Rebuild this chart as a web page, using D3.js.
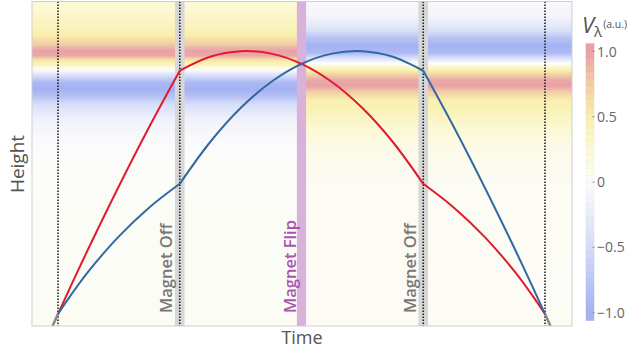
<!DOCTYPE html>
<html>
<head>
<meta charset="utf-8">
<title>Magnet trajectories</title>
<style>
  body { margin: 0; background: #fff; }
  text { font-family: "Open Sans", "Noto Sans", sans-serif; }
</style>
</head>
<body>
<script src="https://d3js.org/d3.v7.min.js"></script>
<script>

var width = 629,
    height = 349;

// trajectory samples (time, height in a.u.)
var tA = [0, 0.1, 0.25, 0.5, 0.75, 1];
var tB = [1, 1.25, 1.5, 1.75, 2, 2.25, 2.5, 2.75, 3];
var tC = [3, 3.25, 3.5, 3.75, 3.9, 4];
var redA = [0, 0.101, 0.249, 0.486, 0.712, 0.925];
var redB = [0.925, 0.978, 0.999, 0.990, 0.951, 0.882, 0.783, 0.654, 0.495];
var redC = [0.495, 0.405, 0.295, 0.162, 0.068, 0];
var blueA = [0, 0.068, 0.162, 0.295, 0.405, 0.495];
var blueB = [0.495, 0.654, 0.783, 0.882, 0.951, 0.990, 0.999, 0.978, 0.925];
var blueC = [0.925, 0.712, 0.486, 0.249, 0.101, 0];
// grey continuation below the launch / landing point
var tailT = [[-0.045, 0], [4, 4.045]];
var tailH = [[-0.046, 0], [0, -0.046]];

// events
var offTimes = [1, 3];
var flipTime = 2;
var edgeTimes = [0, 4];

// background field V(height), before and after the flip
var fieldH = [-0.05, 0.548, 0.662, 0.738, 0.795, 0.825, 0.852, 0.878, 0.905, 0.928, 0.947, 0.966, 0.981, 1.0, 1.027, 1.061, 1.118, 1.2];
var fieldBefore = [0.04, 0.02, -0.03, -0.15, -0.45, -0.8, -1.0, -0.95, -0.5, 0.0, 0.4, 0.6, 0.95, 1.0, 0.75, 0.5, 0.35, 0.2];
var fieldH2 = [-0.05, 0.51, 0.624, 0.70, 0.757, 0.814, 0.844, 0.867, 0.890, 0.913, 0.935, 0.954, 0.973, 0.992, 1.019, 1.049, 1.087, 1.137, 1.2];
var fieldAfter = [0.04, 0.05, 0.12, 0.25, 0.4, 0.5, 0.75, 1.0, 0.95, 0.7, 0.35, 0.0, -0.45, -0.9, -1.0, -0.8, -0.35, -0.1, -0.05];

var legendTicks = [1.0, 0.5, 0, -0.5, -1.0];
var legendLabels = ["1.0", "0.5", "0", "\u22120.5", "\u22121.0"];

var plot = {left: 32, right: 572, top: 1.5, bottom: 326};

var x = d3.scaleLinear().domain([0, 4]).range([58, 545]);
var y = d3.scaleLinear().domain([0, 1]).range([314, 51]);

var colour = d3.scaleLinear()
    .domain([-1, -0.5, 0, 0.25, 0.5, 0.75, 1])
    .range(["#a4b2f2", "#d5dcf8", "#fcfcfb", "#fcf9d6", "#f9efae", "#f2cfa5", "#e9a0a7"])
    .clamp(true);

var before = d3.scaleLinear().domain(fieldH).range(fieldBefore).clamp(true);
var after = d3.scaleLinear().domain(fieldH2).range(fieldAfter).clamp(true);

var svg = d3.select("body").append("svg")
    .attr("width", width)
    .attr("height", height);

svg.append("clipPath").attr("id", "clip")
  .append("rect")
    .attr("x", plot.left).attr("y", plot.top)
    .attr("width", plot.right - plot.left).attr("height", plot.bottom - plot.top);

var g = svg.append("g").attr("clip-path", "url(#clip)");

// density background, one row per pixel
var rows = d3.range(Math.floor(plot.top), Math.ceil(plot.bottom));
g.selectAll("rect.before").data(rows).enter().append("rect")
    .attr("x", plot.left)
    .attr("y", function(r) { return r; })
    .attr("width", x(flipTime) - plot.left)
    .attr("height", 1.2)
    .attr("fill", function(r) { return colour(before(y.invert(r + 0.5))); });
g.selectAll("rect.after").data(rows).enter().append("rect")
    .attr("x", x(flipTime))
    .attr("y", function(r) { return r; })
    .attr("width", plot.right - x(flipTime))
    .attr("height", 1.2)
    .attr("fill", function(r) { return colour(after(y.invert(r + 0.5))); });

// magnet off bands
g.selectAll("rect.off").data(offTimes).enter().append("rect")
    .attr("x", function(d) { return x(d) - 4.8; })
    .attr("y", plot.top)
    .attr("width", 9.6)
    .attr("height", plot.bottom - plot.top)
    .attr("fill", "#d7d7d7");

g.append("rect")
    .attr("x", x(flipTime) - 4.6)
    .attr("y", plot.top)
    .attr("width", 9.2)
    .attr("height", plot.bottom - plot.top)
    .attr("fill", "#d8b2da");

// dotted event lines
g.selectAll("line.ev").data(edgeTimes.concat(offTimes)).enter().append("line")
    .attr("x1", function(d) { return x(d); })
    .attr("x2", function(d) { return x(d); })
    .attr("y1", plot.top)
    .attr("y2", plot.bottom)
    .attr("stroke", "#222")
    .attr("stroke-width", 1.6)
    .attr("stroke-dasharray", "1.5,1.5");

// grey tails
var line = d3.line()
    .x(function(d) { return x(d[0]); })
    .y(function(d) { return y(d[1]); })
    .curve(d3.curveCatmullRom.alpha(0.5));

tailT.forEach(function(ts, i) {
  g.append("path")
      .datum(d3.zip(ts, tailH[i]))
      .attr("d", line)
      .attr("fill", "none")
      .attr("stroke", "#8a8a8a")
      .attr("stroke-width", 2.6);
});

function drawSeries(parts, col) {
  parts.forEach(function(p) {
    g.append("path")
        .datum(d3.zip(p[0], p[1]))
        .attr("d", line)
        .attr("fill", "none")
        .attr("stroke", col)
        .attr("stroke-width", 2)
        .attr("stroke-linejoin", "round");
  });
}
drawSeries([[tA, redA], [tB, redB], [tC, redC]], "#e01b2d");
drawSeries([[tA, blueA], [tB, blueB], [tC, blueC]], "#2f6aa3");

// event labels
offTimes.forEach(function(t) {
  svg.append("text")
      .attr("transform", "translate(" + (x(t) - 7.5) + "," + 313 + ") rotate(-90)")
      .attr("font-size", 16.5)
      .attr("font-weight", 600)
      .attr("fill", "#777")
      .text("Magnet Off");
});
svg.append("text")
    .attr("transform", "translate(" + (x(flipTime) - 5.5) + "," + 313 + ") rotate(-90)")
    .attr("font-size", 16.5)
    .attr("font-weight", 600)
    .attr("fill", "#a955b0")
    .text("Magnet Flip");

// frame
svg.append("rect")
    .attr("x", plot.left).attr("y", plot.top)
    .attr("width", plot.right - plot.left).attr("height", plot.bottom - plot.top)
    .attr("fill", "none")
    .attr("stroke", "#cfcfcf")
    .attr("stroke-width", 1);

// axis titles
svg.append("text")
    .attr("x", (plot.left + plot.right) / 2)
    .attr("y", 344)
    .attr("text-anchor", "middle")
    .attr("font-size", 18)
    .attr("fill", "#555")
    .text("Time");
svg.append("text")
    .attr("transform", "translate(24," + 164 + ") rotate(-90)")
    .attr("text-anchor", "middle")
    .attr("font-size", 19)
    .attr("fill", "#555")
    .text("Height");

// colour bar
var ly = d3.scaleLinear().domain([1, -1]).range([51.5, 312.5]);
var cells = d3.range(-1.06, 1.06, 0.053);
svg.selectAll("rect.cell").data(cells).enter().append("rect")
    .attr("x", 586)
    .attr("y", function(d) { return ly(d + 0.053); })
    .attr("width", 8)
    .attr("height", ly(0) - ly(0.053) + 0.3)
    .attr("fill", function(d) { return colour(d + 0.0265); })
    .attr("stroke", function(d) { return d3.color(colour(d + 0.0265)).darker(0.15); })
    .attr("stroke-width", 0.4);

svg.selectAll("line.lt").data(legendTicks).enter().append("line")
    .attr("x1", 592).attr("x2", 595)
    .attr("y1", function(d) { return ly(d); })
    .attr("y2", function(d) { return ly(d); })
    .attr("stroke", "#999")
    .attr("stroke-width", 0.8);

svg.selectAll("text.lt").data(legendTicks).enter().append("text")
    .attr("x", 597)
    .attr("y", function(d) { return ly(d) + 5; })
    .attr("font-size", 14)
    .attr("fill", "#666")
    .text(function(d, i) { return legendLabels[i]; });

var title = svg.append("text").attr("x", 582).attr("y", 33).attr("fill", "#555");
title.append("tspan").attr("font-size", 22).attr("font-style", "italic").text("V");
title.append("tspan").attr("font-size", 15).attr("dy", 4).text("\u03bb");
title.append("tspan").attr("font-size", 10.5).attr("dy", -9).attr("dx", 1).text("(a.u.)");

</script>
</body>
</html>
